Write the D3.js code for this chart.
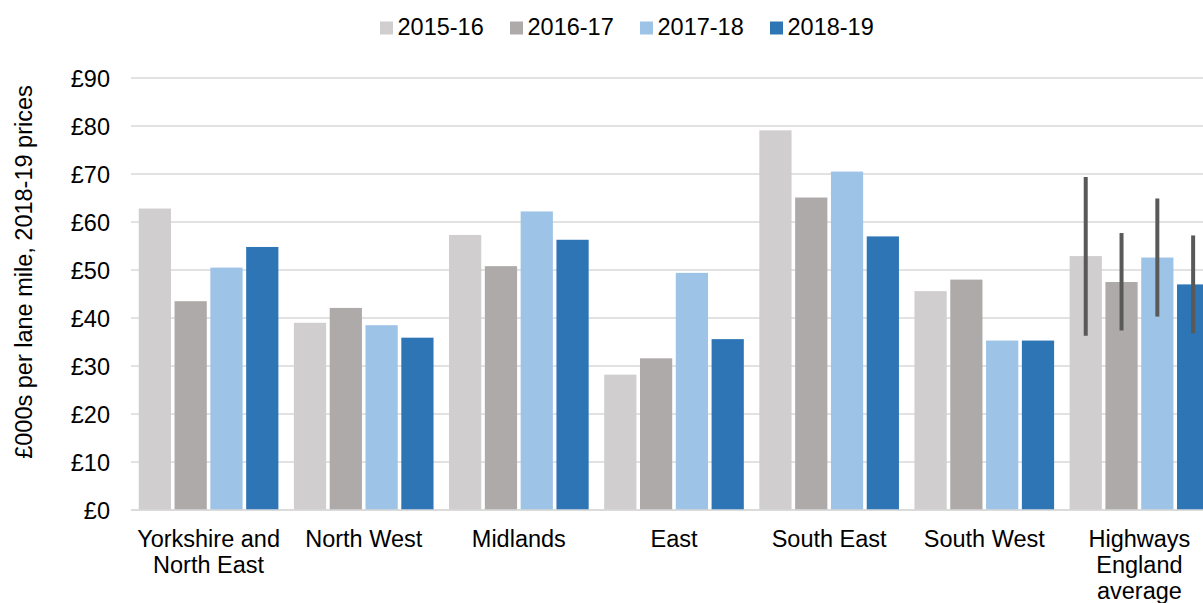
<!DOCTYPE html>
<html><head><meta charset="utf-8">
<script src="https://cdn.jsdelivr.net/npm/d3@7"></script>
<style>body{margin:0;background:#fff}text{font-family:"Liberation Sans",Arial,sans-serif;fill:#000}</style>
</head><body><svg id="c" width="1203" height="603"></svg>
<script>
const categories = [["Yorkshire and","North East"],["North West"],["Midlands"],["East"],["South East"],["South West"],["Highways","England","average"]];
const series = ["2015-16","2016-17","2017-18","2018-19"];
const colors = ["#d0cece","#aeaaaa","#9dc3e6","#2e75b6"];
const values = [
  [62.8,43.5,50.5,54.8],
  [39.0,42.1,38.5,35.9],
  [57.3,50.8,62.2,56.3],
  [28.2,31.6,49.4,35.6],
  [79.1,65.1,70.5,57.0],
  [45.6,48.0,35.3,35.3],
  [52.9,47.5,52.6,47.0]
];
// error bars for Highways England average [low, high]
const errLow = [36.3,37.4,40.3,36.8];
const errHigh = [69.4,57.7,64.9,57.2];
const yTicks = [0,10,20,30,40,50,60,70,80,90];

const FS = 23.5;
const svg = d3.select("#c");
const catKeys = categories.map(c=>c.join(" "));
const x0 = d3.scaleBand().domain(catKeys).range([131,1217]).paddingInner(0.1).paddingOuter(0.05);
const x1 = d3.scaleBand().domain(series).range([0,x0.bandwidth()]).paddingInner(0.1);
const y = d3.scaleLinear().domain([0,90]).range([510,78]);

// gridlines
svg.append("g").selectAll("line").data(yTicks).join("line")
  .attr("x1",131).attr("x2",1203).attr("y1",d=>y(d)).attr("y2",d=>y(d))
  .attr("stroke","#d9d9d9").attr("stroke-width",1.5);
// y labels
svg.append("g").selectAll("text").data(yTicks).join("text")
  .attr("x",110).attr("y",d=>y(d)+8.5).attr("text-anchor","end").attr("font-size",FS)
  .text(d=>"£"+d);
svg.append("text").attr("transform","translate(32,272) rotate(-90)").attr("text-anchor","middle")
  .attr("font-size",FS).text("£000s per lane mile, 2018-19 prices");

// bars
const g = svg.append("g").selectAll("g").data(values).join("g")
  .attr("transform",(d,i)=>`translate(${x0(catKeys[i])},0)`);
g.selectAll("rect").data(d=>d.map((v,j)=>({v,s:series[j],j}))).join("rect")
  .attr("x",d=>x1(d.s)).attr("width",x1.bandwidth())
  .attr("y",d=>y(d.v)).attr("height",d=>y(0)-y(d.v)).attr("fill",d=>colors[d.j]);

// baseline
svg.append("line").attr("x1",131).attr("x2",1203).attr("y1",y(0)).attr("y2",y(0)).attr("stroke","#d9d9d9").attr("stroke-width",1.5);

// error bars
const heX = x0(catKeys[6]);
svg.append("g").selectAll("line").data(series).join("line")
  .attr("x1",(s)=>heX+x1(s)+x1.bandwidth()/2).attr("x2",(s)=>heX+x1(s)+x1.bandwidth()/2)
  .attr("y1",(s,i)=>y(errLow[i])).attr("y2",(s,i)=>y(errHigh[i]))
  .attr("stroke","#595959").attr("stroke-width",4);

// category labels
categories.forEach((lines,i)=>{
  const cx = x0(catKeys[i])+x0.bandwidth()/2;
  const t = svg.append("text").attr("text-anchor","middle").attr("font-size",FS)
    .attr("x",cx).attr("y",547);
  lines.forEach((l,k)=>t.append("tspan").attr("x",cx).attr("dy",k===0?0:26).text(l));
});

// legend
const lg = svg.append("g").selectAll("g").data(series).join("g")
  .attr("transform",(d,i)=>`translate(${380+i*130},0)`);
lg.append("rect").attr("x",0).attr("y",21.5).attr("width",13).attr("height",13).attr("fill",(d,i)=>colors[i]);
lg.append("text").attr("x",17.5).attr("y",35).attr("font-size",FS).text(d=>d);
</script></body></html>
